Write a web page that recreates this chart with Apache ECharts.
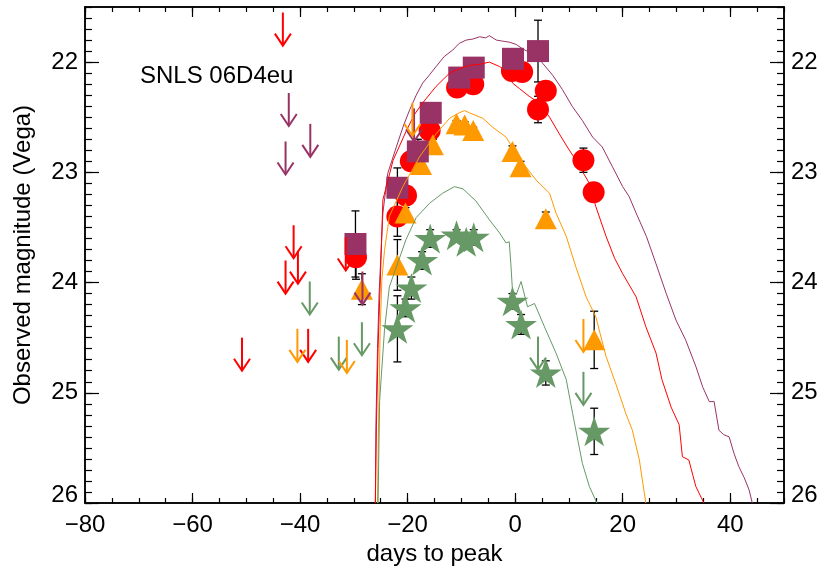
<!DOCTYPE html>
<html><head><meta charset="utf-8">
<script src="https://cdn.jsdelivr.net/npm/echarts@6/dist/echarts.min.js"></script>
<style>html,body{margin:0;padding:0;background:#fff}#c{width:831px;height:572px}</style>
</head><body><div id="c"></div>
<script>
// ---------- tick labels ----------
const xMajorTicks = [-80, -60, -40, -20, 0, 20, 40];
const yMajorTicks = [22, 23, 24, 25, 26];

// ---------- detections (days to peak, magnitude, error) ----------
// purple squares
const zDays = [-29.7, -21.9, -18.1, -15.7, -10.4, -7.7, -0.4, 4.25];
const zMags = [23.65, 23.14, 22.81, 22.46, 22.14, 22.05, 21.97, 21.90];
const zErrs = [0.30, 0.18, 0.11, 0.06, 0.05, 0.05, 0.05, 0.28];
// red circles
const iDays = [-29.6, -21.9, -20.3, -19.4, -15.9, -10.8, -7.8, -0.6, 1.3, 4.25, 5.7, 12.7, 14.6];
const iMags = [23.77, 23.40, 23.21, 22.90, 22.62, 22.23, 22.20, 22.08, 22.09, 22.43, 22.26, 22.89, 23.18];
const iErrs = [0.20, 0.18, 0.05, 0.05, 0.05, 0.04, 0.04, 0.04, 0.04, 0.12, 0.05, 0.11, 0.05];
// orange triangles
const rDays = [-28.5, -21.9, -20.4, -17.5, -15.3, -10.9, -9.4, -7.8, -0.5, 1.0, 5.7, 14.7];
const rMags = [24.06, 23.84, 23.37, 22.93, 22.75, 22.56, 22.57, 22.62, 22.81, 22.95, 23.42, 24.52];
const rErrs = [0.14, 0.23, 0.05, 0.05, 0.05, 0.03, 0.03, 0.03, 0.05, 0.05, 0.06, 0.26];
// green stars
const gDays = [-21.9, -20.4, -19.3, -17.3, -15.8, -10.9, -9.1, -7.7, -0.5, 1.1, 5.7, 14.7];
const gMags = [24.42, 24.23, 24.05, 23.80, 23.60, 23.57, 23.63, 23.59, 24.17, 24.38, 24.82, 25.35];
const gErrs = [0.30, 0.08, 0.10, 0.08, 0.08, 0.05, 0.06, 0.07, 0.07, 0.09, 0.11, 0.21];

// ---------- upper limits (arrow top = limiting magnitude) ----------
const zLimDays = [-42.1, -38.1, -42.7, -28.4, -18.8];
const zLimMags = [22.28, 22.56, 22.72, 23.90, 22.42];
const iLimDays = [-43.2, -41.2, -40.4, -42.7, -50.8, -38.5, -31.5];
const iLimMags = [21.55, 23.48, 23.71, 23.80, 24.50, 24.42, 23.59];
const rLimDays = [-40.5, -31.3, -19.1, 12.7];
const rLimMags = [24.42, 24.52, 22.37, 24.33];
const gLimDays = [-38.2, -32.8, -28.5, 4.25, 12.7];
const gLimMags = [23.99, 24.49, 24.36, 24.49, 24.81];

// ---------- model light curves [day, mag] ----------
const zModel = [[-26.0,26.0],[-25.9,25.3],[-25.6,24.6],[-25.3,24.1],[-24.6,23.37],[-23.7,23.01],[-22.1,22.77],[-20.8,22.58],[-19.6,22.43],[-18.4,22.30],[-17.2,22.19],[-16.0,22.12],[-14.7,22.04],[-13.2,21.95],[-11.6,21.89],[-10.4,21.83],[-9.1,21.80],[-7.8,21.79],[-6.6,21.77],[-5.5,21.78],[-4.8,21.76],[-3.5,21.80],[-2.3,21.81],[-1.0,21.82],[0.2,21.84],[1.4,21.88],[2.6,21.91],[3.8,21.93],[5.1,22.01],[7.0,22.12],[8.8,22.25],[10.6,22.40],[12.5,22.53],[14.4,22.68],[16.2,22.77],[18.1,22.95],[20.0,23.13],[21.2,23.22],[22.5,23.37],[24.4,23.58],[26.2,23.83],[28.1,24.10],[29.9,24.34],[31.7,24.52],[33.6,24.76],[34.9,24.95],[36.1,25.08],[37.0,25.08],[37.9,25.34],[38.8,25.38],[39.8,25.40],[40.7,25.55],[41.6,25.67],[42.6,25.77],[43.5,25.88],[44.1,26.0]];
const iModel = [[-26.0,26.0],[-25.8,25.3],[-25.5,24.6],[-25.2,24.16],[-24.6,23.25],[-22.7,22.89],[-20.3,22.63],[-18.8,22.48],[-17.2,22.37],[-14.7,22.22],[-12.2,22.10],[-10.4,22.06],[-8.5,22.03],[-6.6,22.02],[-4.8,22.00],[-2.9,22.04],[-1.1,22.10],[-0.5,22.19],[0.8,22.24],[2.6,22.31],[4.5,22.37],[6.4,22.50],[8.2,22.65],[9.7,22.77],[11.3,22.89],[13.8,23.10],[15.0,23.31],[16.9,23.58],[18.5,23.78],[20.0,23.92],[22.5,24.13],[24.3,24.40],[26.2,24.64],[27.3,24.88],[29.0,25.13],[30.5,25.29],[31.1,25.58],[32.3,25.61],[33.6,25.85],[35.1,26.0]];
const rModel = [[-25.6,26.0],[-25.4,25.25],[-25.1,24.43],[-24.8,23.98],[-24.3,23.71],[-23.4,23.40],[-20.9,23.13],[-17.8,22.86],[-14.7,22.65],[-12.2,22.51],[-10.4,22.46],[-9.4,22.44],[-8.5,22.46],[-6.0,22.51],[-4.2,22.59],[-1.7,22.68],[0.2,22.83],[2.0,22.95],[3.9,23.07],[6.4,23.19],[7.6,23.37],[9.5,23.58],[11.3,23.86],[13.2,24.13],[15.0,24.31],[16.9,24.67],[18.8,24.93],[20.6,25.19],[21.8,25.34],[23.1,25.61],[24.3,26.0]];
const gModel = [[-25.5,26.0],[-25.2,25.07],[-24.3,24.43],[-23.4,24.04],[-22.1,23.86],[-20.3,23.61],[-18.4,23.41],[-15.9,23.28],[-13.5,23.19],[-11.3,23.13],[-9.7,23.15],[-7.3,23.26],[-4.8,23.43],[-2.9,23.55],[-1.7,23.64],[-1.1,23.63],[-0.8,23.83],[-0.5,24.07],[0.2,24.11],[1.1,23.99],[2.3,24.22],[3.6,24.19],[5.7,24.43],[7.6,24.64],[9.5,24.88],[10.7,25.19],[11.9,25.49],[12.5,25.64],[13.8,25.85],[15.2,26.0]];

// ---------- styling ----------
const FONT = '"Liberation Sans", Arial, Helvetica, sans-serif';
const PURPLE = '#993366', RED = '#ff0000', ORANGE = '#ff9900', GREEN = '#669966';
const ARROW_LEN = 0.3;
const STAR = 'path://M0,-100L22.45,-30.9L95.1,-30.9L36.3,11.8L58.8,80.9L0,38.2L-58.8,80.9L-36.3,11.8L-95.1,-30.9L-22.45,-30.9Z';

function pairs(xs, ys) { return xs.map((x, i) => [x, ys[i]]); }
function fmtNum(v) { return v < 0 ? '\u2212' + Math.abs(v) : String(v); }

const lineSt = { color: '#000', width: 1.5 };
const tickSt = { color: '#000', width: 1.2 };

function xAx(pos, major) {
  const ax = {
    type: 'value', min: -80, max: 50, position: pos,
    axisLine: { show: true, onZero: false, lineStyle: lineSt },
    splitLine: { show: false },
    axisLabel: { show: false }
  };
  if (major) {
    ax.axisTick = { show: true, inside: true, length: 10, customValues: xMajorTicks, lineStyle: tickSt };
    if (pos === 'bottom') {
      ax.axisLabel = { show: true, customValues: xMajorTicks, formatter: fmtNum, fontSize: 24, color: '#000', fontFamily: FONT, margin: 10 };
      ax.name = 'days to peak';
      ax.nameLocation = 'middle';
      ax.nameGap = 36;
      ax.nameTextStyle = { fontSize: 24, color: '#000', fontFamily: FONT };
    }
  } else {
    ax.interval = 5;
    ax.axisTick = { show: true, inside: true, length: 5, lineStyle: tickSt };
  }
  return ax;
}
function yAx(pos, major) {
  const ax = {
    type: 'value', min: 21.5, max: 26, inverse: true, position: pos,
    axisLine: { show: true, onZero: false, lineStyle: lineSt },
    splitLine: { show: false },
    axisLabel: { show: false }
  };
  if (major) {
    ax.axisTick = { show: true, inside: true, length: 14, customValues: yMajorTicks, lineStyle: tickSt };
    ax.axisLabel = {
      show: true, customValues: yMajorTicks, fontSize: 24, color: '#000', fontFamily: FONT, margin: 7,
      formatter: v => (v === 26 ? '{b|26}' : String(v)),
      rich: { b: { fontSize: 24, color: '#000', fontFamily: FONT, padding: [0, 0, 16, 0] } }
    };
    if (pos === 'left') {
      ax.name = 'Observed magnitude (Vega)';
      ax.nameLocation = 'middle';
      ax.nameGap = 50;
      ax.nameTextStyle = { fontSize: 24, color: '#000', fontFamily: FONT };
    }
  } else {
    ax.interval = 0.1;
    ax.axisTick = { show: true, inside: true, length: 7, lineStyle: tickSt };
  }
  return ax;
}

function scatter(days, mags, symbol, size, color) {
  return { type: 'scatter', data: pairs(days, mags), symbol: symbol, symbolSize: size,
    itemStyle: { color: color, opacity: 1 }, z: 3, silent: true, animation: false };
}
function model(data, color) {
  return { type: 'line', data: data, showSymbol: false, symbol: 'none',
    lineStyle: { color: color, width: 1 }, z: 5, silent: true, animation: false };
}
function errSeries(days, mags, errs) {
  return {
    type: 'custom', z: 3, silent: true, animation: false,
    data: days.map((d, i) => [d, mags[i], errs[i]]),
    renderItem: function (params, api) {
      const x = api.value(0), m = api.value(1), e = api.value(2);
      const a = api.coord([x, m - e]), b = api.coord([x, m + e]);
      const st = { stroke: '#000', lineWidth: 1.3 };
      return { type: 'group', children: [
        { type: 'line', shape: { x1: a[0], y1: a[1], x2: b[0], y2: b[1] }, style: st },
        { type: 'line', shape: { x1: a[0] - 4, y1: a[1], x2: a[0] + 4, y2: a[1] }, style: st },
        { type: 'line', shape: { x1: b[0] - 4, y1: b[1], x2: b[0] + 4, y2: b[1] }, style: st }
      ] };
    }
  };
}
function arrows(days, mags, color) {
  return {
    type: 'custom', z: 6, silent: true, animation: false,
    data: pairs(days, mags),
    renderItem: function (params, api) {
      const x = api.value(0), m = api.value(1);
      const p0 = api.coord([x, m]), p1 = api.coord([x, m + ARROW_LEN]);
      const st = { stroke: color, lineWidth: 2, fill: null };
      return { type: 'group', children: [
        { type: 'line', shape: { x1: p0[0], y1: p0[1], x2: p1[0], y2: p1[1] - 1 }, style: st },
        { type: 'polyline', shape: { points: [[p1[0] - 8, p1[1] - 12], [p1[0], p1[1]], [p1[0] + 8, p1[1] - 12]] }, style: st }
      ] };
    }
  };
}

const chart = echarts.init(document.getElementById('c'), null, { renderer: 'canvas' });
chart.setOption({
  animation: false,
  backgroundColor: '#fff',
  textStyle: { fontFamily: FONT },
  grid: { left: 85, right: 47, top: 7, bottom: 69, containLabel: false },
  xAxis: [xAx('bottom', false), xAx('bottom', true), xAx('top', false), xAx('top', true)],
  yAxis: [yAx('left', false), yAx('left', true), yAx('right', false), yAx('right', true)],
  graphic: [{ type: 'text', left: 140, top: 64, style: { text: 'SNLS 06D4eu', fontSize: 24, fontFamily: FONT, fill: '#000' } }],
  series: [
    errSeries(iDays, iMags, iErrs),
    scatter(iDays, iMags, 'circle', 22, RED),
    errSeries(rDays, rMags, rErrs),
    scatter(rDays, rMags, 'triangle', [22, 21], ORANGE),
    errSeries(zDays, zMags, zErrs),
    scatter(zDays, zMags, 'rect', 22, PURPLE),
    errSeries(gDays, gMags, gErrs),
    scatter(gDays, gMags, STAR, [32, 30], GREEN),
    model(zModel, PURPLE),
    model(iModel, RED),
    model(rModel, ORANGE),
    model(gModel, GREEN),
    arrows(zLimDays, zLimMags, PURPLE),
    arrows(iLimDays, iLimMags, RED),
    arrows(gLimDays, gLimMags, GREEN),
    arrows(rLimDays, rLimMags, ORANGE)
  ]
});
</script></body></html>
